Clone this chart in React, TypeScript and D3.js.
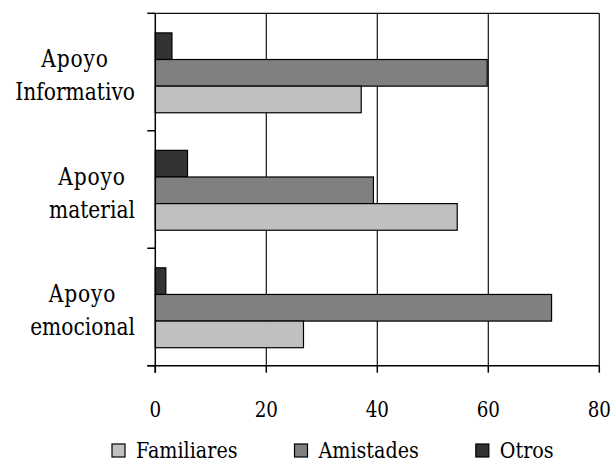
import React, { useEffect, useRef } from "react";
import * as d3 from "d3";

// categories listed top to bottom
const categories = ["Apoyo Informativo", "Apoyo material", "Apoyo emocional"];
const seriesNames = ["Familiares", "Amistades", "Otros"];
const familiares = [37.1, 54.4, 26.7];
const amistades = [59.8, 39.3, 71.4];
const otros = [3.0, 5.8, 1.9];
const seriesColors = ["#c0c0c0", "#808080", "#333333"];
const xTicks = [0, 20, 40, 60, 80];

const W = 612;
const H = 462;
const FONT = "'DejaVu Serif'";
const SX = 0.85; // horizontal condense to approximate Times-like widths

export default function App() {
  const ref = useRef<SVGSVGElement | null>(null);

  useEffect(() => {
    const svg = d3.select(ref.current);
    svg.selectAll("*").remove();

    const addText = (
      parent: any, tx: number, ty: number, str: string, size: number,
      anchor: string, spacing = 0
    ) => {
      const gg = parent.append("g").attr("transform", `translate(${tx},${ty}) scale(${SX},1)`);
      const t = gg.append("text").attr("x", 0).attr("y", 0)
        .attr("text-anchor", anchor)
        .style("font-family", FONT).style("font-size", `${size}px`)
        .style("letter-spacing", `${spacing}px`)
        .attr("fill", "#000").text(str);
      return { g: gg, t, width: (t.node() as SVGTextElement).getComputedTextLength() * SX };
    };

    const left = 155.3, right = 599.3, top = 13.3, bottom = 365.7;
    const x = d3.scaleLinear().domain([0, 80]).range([left, right]);
    const y = d3.scaleBand<string>().domain(categories).range([top, bottom]).paddingInner(0).paddingOuter(0);
    const bw = y.bandwidth();
    const group = bw * 0.68;
    const order = ["Otros", "Amistades", "Familiares"];
    const y1 = d3.scaleBand<string>().domain(order).range([(bw - group) / 2 + 0.8, (bw + group) / 2 + 0.8]);
    const values: Record<string, number[]> = { Familiares: familiares, Amistades: amistades, Otros: otros };
    const color = d3.scaleOrdinal<string, string>().domain(seriesNames).range(seriesColors);

    // gridlines
    svg.append("g").selectAll("line").data(xTicks.filter((t) => t > 0)).join("line")
      .attr("x1", (d) => x(d)).attr("x2", (d) => x(d))
      .attr("y1", top).attr("y2", bottom)
      .attr("stroke", "#111").attr("stroke-width", 1.2);
    svg.append("line").attr("x1", left).attr("x2", right).attr("y1", top).attr("y2", top)
      .attr("stroke", "#111").attr("stroke-width", 1.2);

    // bars
    const g = svg.append("g");
    categories.forEach((c, i) => {
      order.forEach((s) => {
        const v = values[s][i];
        g.append("rect")
          .attr("x", x(0)).attr("y", (y(c) as number) + (y1(s) as number))
          .attr("width", x(v) - x(0)).attr("height", y1.bandwidth())
          .attr("fill", color(s)).attr("stroke", "#000").attr("stroke-width", 1.2);
      });
    });

    // y axis
    svg.append("line").attr("x1", left).attr("x2", left).attr("y1", top).attr("y2", bottom + 7)
      .attr("stroke", "#000").attr("stroke-width", 1.5);
    const yTicks = [top, ...categories.map((c) => (y(c) as number) + bw)];
    svg.append("g").selectAll("line").data(yTicks).join("line")
      .attr("x1", left - 8).attr("x2", left).attr("y1", (d) => d).attr("y2", (d) => d)
      .attr("stroke", "#000").attr("stroke-width", 1.5);

    // x axis
    svg.append("line").attr("x1", left - 8).attr("x2", right).attr("y1", bottom).attr("y2", bottom)
      .attr("stroke", "#000").attr("stroke-width", 1.5);
    svg.append("g").selectAll("line").data(xTicks).join("line")
      .attr("x1", (d) => x(d)).attr("x2", (d) => x(d)).attr("y1", bottom).attr("y2", bottom + 7)
      .attr("stroke", "#000").attr("stroke-width", 1.5);
    const xt = svg.append("g");
    xTicks.forEach((d) => addText(xt, x(d), 417, String(d), 21.5, "middle"));

    // category labels
    categories.forEach((c) => {
      const lines = c.split(" ");
      const cy = (y(c) as number) + bw / 2;
      const tg = svg.append("g");
      const items = lines.map((ln, k) => addText(tg, 0, cy - 5 + k * 33, ln, 23.8, "middle", k === 0 ? 1 : 0));
      const maxW = Math.max(...items.map((it) => it.width));
      const cx = 135 - maxW / 2;
      items.forEach((it, k) => it.g.attr("transform", `translate(${cx},${cy - 5 + k * 33}) scale(${SX},1)`));
    });

    // legend
    let lx = 112;
    const ly = 458;
    seriesNames.forEach((s) => {
      svg.append("rect").attr("x", lx).attr("y", ly - 14).attr("width", 13).attr("height", 13)
        .attr("fill", color(s)).attr("stroke", "#000").attr("stroke-width", 1.2);
      const it = addText(svg, lx + 24, ly, s, 22.5, "start");
      lx = lx + 24 + it.width + 57;
    });
  }, []);

  return (
    <svg
      ref={ref}
      width={W}
      height={H}
      viewBox={`0 0 ${W} ${H}`}
      style={{ position: "absolute", left: 0, top: 0, background: "#fff" }}
    />
  );
}
